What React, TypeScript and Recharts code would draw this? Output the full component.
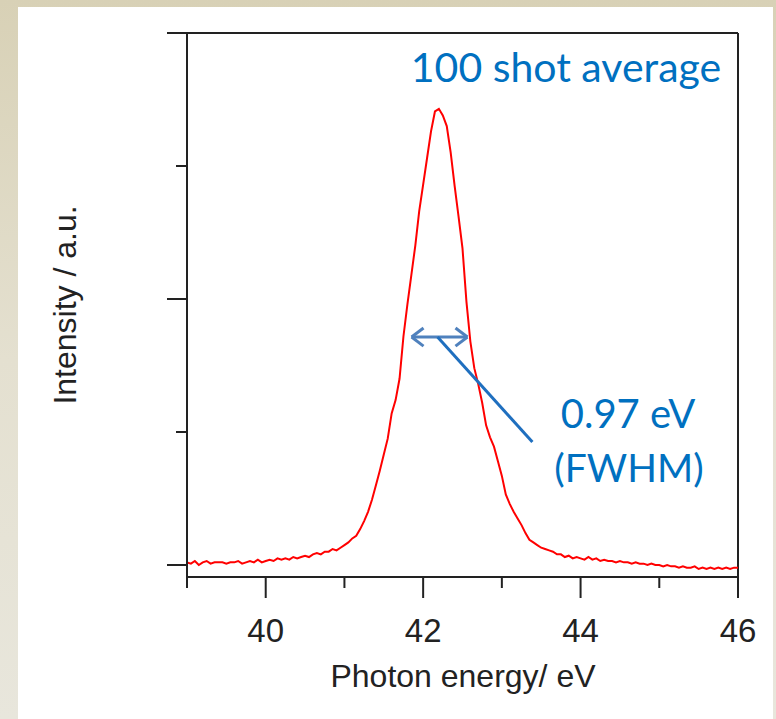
import React from 'react';
import { LineChart, Line, XAxis, YAxis, ReferenceLine } from 'recharts';

const energy = [
  39.0, 39.05, 39.1, 39.15, 39.2, 39.25, 39.3, 39.35, 39.4, 39.45,
  39.5, 39.55, 39.6, 39.65, 39.7, 39.75, 39.8, 39.85, 39.9, 39.95,
  40.0, 40.05, 40.1, 40.15, 40.2, 40.25, 40.3, 40.35, 40.4, 40.45,
  40.5, 40.55, 40.6, 40.65, 40.7, 40.75, 40.8, 40.85, 40.9, 40.95,
  41.0, 41.05, 41.1, 41.15, 41.2, 41.25, 41.3, 41.35, 41.4, 41.45,
  41.5, 41.55, 41.6, 41.65, 41.7, 41.75, 41.8, 41.85, 41.9, 41.95,
  42.0, 42.05, 42.1, 42.15, 42.2, 42.25, 42.3, 42.35, 42.4, 42.45,
  42.5, 42.55, 42.6, 42.65, 42.7, 42.75, 42.8, 42.85, 42.9, 42.95,
  43.0, 43.05, 43.1, 43.15, 43.2, 43.25, 43.3, 43.35, 43.4, 43.45,
  43.5, 43.55, 43.6, 43.65, 43.7, 43.75, 43.8, 43.85, 43.9, 43.95,
  44.0, 44.05, 44.1, 44.15, 44.2, 44.25, 44.3, 44.35, 44.4, 44.45,
  44.5, 44.55, 44.6, 44.65, 44.7, 44.75, 44.8, 44.85, 44.9, 44.95,
  45.0, 45.05, 45.1, 45.15, 45.2, 45.25, 45.3, 45.35, 45.4, 45.45,
  45.5, 45.55, 45.6, 45.65, 45.7, 45.75, 45.8, 45.85, 45.9, 45.95,
  46.0,
];

const intensity = [
  0.02, 0.01, 0.03, 0.0, 0.02, 0.03, 0.01, 0.02, 0.02, 0.02,
  0.01, 0.02, 0.02, 0.03, 0.01, 0.02, 0.03, 0.02, 0.04, 0.02,
  0.03, 0.04, 0.03, 0.05, 0.04, 0.05, 0.04, 0.06, 0.05, 0.06,
  0.07, 0.06, 0.08, 0.09, 0.08, 0.1, 0.1, 0.12, 0.11, 0.13,
  0.15, 0.17, 0.2, 0.22, 0.27, 0.33, 0.4, 0.49, 0.6, 0.71,
  0.83, 0.95, 1.14, 1.24, 1.4, 1.72, 1.96, 2.18, 2.4, 2.66,
  2.86, 3.06, 3.26, 3.41, 3.43, 3.38, 3.3, 3.1, 2.85, 2.62,
  2.38, 1.98, 1.68, 1.48, 1.36, 1.22, 1.05, 0.96, 0.89, 0.78,
  0.67, 0.53, 0.46, 0.4, 0.35, 0.3, 0.24, 0.19, 0.17, 0.15,
  0.13, 0.12, 0.11, 0.1, 0.08, 0.08, 0.06, 0.07, 0.05, 0.06,
  0.05, 0.04, 0.06, 0.04, 0.05, 0.03, 0.04, 0.03, 0.03, 0.02,
  0.03, 0.02, 0.02, 0.01, 0.02, 0.01, 0.01, 0.0, 0.01, 0.0,
  0.0, -0.01, 0.0, -0.01, -0.01, -0.02, -0.01, -0.02, -0.02, -0.01,
  -0.03, -0.02, -0.03, -0.02, -0.03, -0.02, -0.03, -0.02, -0.03, -0.02,
  -0.02,
];

const xTicks = [39, 40, 41, 42, 43, 44, 45, 46];
const xLabeledTicks = [40, 42, 44, 46];
const yTicks = [0, 1, 2, 3, 4];
const yMajorTicks = [0, 2, 4];
const xDomain = [39, 46];
const yDomain = [-0.0902, 4];

const titleText = '100 shot average';
const fwhmValueText = '0.97 eV';
const fwhmLabelText = '(FWHM)';
const xAxisTitle = 'Photon energy/ eV';
const yAxisTitle = 'Intensity / a.u.';

// FWHM arrow annotation (data coordinates)
const arrowY = 1.714;
const arrowLeft = 41.853;
const arrowRight = 42.563;
const headDx = 0.152;
const headDy = 0.068;
const calloutStart = { x: 42.183, y: 1.714 };
const calloutEnd = { x: 43.388, y: 0.925 };

const data = energy.map((e, i) => ({ energy: e, intensity: intensity[i] }));

const AXIS = '#222222';
const BLUE = '#0070c0';
const ARROW_BLUE = '#4f81bd';
const SANS = "'Liberation Sans', Arial, sans-serif";
const TEXT_FONT = "Lato, 'Open Sans', sans-serif";

const XTick = (props: any) => {
  const { x, y, payload } = props;
  const major = xLabeledTicks.includes(payload.value);
  return (
    <g>
      <line x1={x} x2={x} y1={y} y2={y + (major ? 21 : 11)} stroke={AXIS} strokeWidth={2} />
      {major && (
        <text x={x} y={y + 65} textAnchor="middle" fontSize={33} fontFamily={SANS} fill={AXIS}>
          {payload.value}
        </text>
      )}
    </g>
  );
};

const YTick = (props: any) => {
  const { x, y, payload } = props;
  const major = yMajorTicks.includes(payload.value);
  return (
    <g>
      <line x1={x - (major ? 20 : 11)} x2={x} y1={y} y2={y} stroke={AXIS} strokeWidth={2} />
    </g>
  );
};

export default function App() {
  return (
    <div
      style={{
        position: 'absolute',
        left: 0,
        top: 0,
        width: 776,
        height: 719,
        background: 'linear-gradient(180deg, #d8d1b6 0%, #e4e0d0 50%, #e8e6dc 100%)',
        overflow: 'hidden',
      }}
    >
      <div
        style={{
          position: 'absolute',
          left: 18,
          top: 7,
          width: 755,
          height: 712,
          background: '#ffffff',
        }}
      />
      <div style={{ position: 'absolute', left: 0, top: 0 }}>
        <LineChart
          width={776}
          height={719}
          data={data}
          margin={{ top: 33, right: 38, left: 0, bottom: 0 }}
        >
          <XAxis
            type="number"
            dataKey="energy"
            domain={xDomain}
            ticks={xTicks}
            interval={0}
            allowDataOverflow
            tickSize={0}
            tickMargin={0}
            tickLine={false}
            tick={<XTick />}
            height={142}
            axisLine={{ stroke: AXIS, strokeWidth: 2 }}
          />
          <YAxis
            type="number"
            domain={yDomain}
            ticks={yTicks}
            interval={0}
            allowDataOverflow
            tickSize={0}
            tickMargin={0}
            tickLine={false}
            tick={<YTick />}
            width={187}
            axisLine={{ stroke: AXIS, strokeWidth: 2 }}
          />
          <ReferenceLine y={4} stroke={AXIS} strokeWidth={2} />
          <ReferenceLine x={46} stroke={AXIS} strokeWidth={2} />
          <Line
            type="linear"
            dataKey="intensity"
            stroke="#ff0000"
            strokeWidth={2}
            dot={false}
            isAnimationActive={false}
          />
          <ReferenceLine
            segment={[{ x: arrowLeft, y: arrowY }, { x: arrowRight, y: arrowY }]}
            stroke={ARROW_BLUE}
            strokeWidth={3}
          />
          <ReferenceLine
            segment={[{ x: arrowLeft, y: arrowY }, { x: arrowLeft + headDx, y: arrowY + headDy }]}
            stroke={ARROW_BLUE}
            strokeWidth={3}
          />
          <ReferenceLine
            segment={[{ x: arrowLeft, y: arrowY }, { x: arrowLeft + headDx, y: arrowY - headDy }]}
            stroke={ARROW_BLUE}
            strokeWidth={3}
          />
          <ReferenceLine
            segment={[{ x: arrowRight, y: arrowY }, { x: arrowRight - headDx, y: arrowY + headDy }]}
            stroke={ARROW_BLUE}
            strokeWidth={3}
          />
          <ReferenceLine
            segment={[{ x: arrowRight, y: arrowY }, { x: arrowRight - headDx, y: arrowY - headDy }]}
            stroke={ARROW_BLUE}
            strokeWidth={3}
          />
          <ReferenceLine
            segment={[calloutStart, calloutEnd]}
            stroke="#1f6fbf"
            strokeWidth={3}
          />
        </LineChart>
      </div>
      <svg
        width={776}
        height={719}
        style={{ position: 'absolute', left: 0, top: 0, pointerEvents: 'none' }}
      >
        <text x={566} y={82} textAnchor="middle" fontSize={41} fontFamily={TEXT_FONT} fill={BLUE}>
          {titleText}
        </text>
        <text x={628} y={428} textAnchor="middle" fontSize={40} fontFamily={TEXT_FONT} fill={BLUE}>
          {fwhmValueText}
        </text>
        <text x={629} y={482} textAnchor="middle" fontSize={39} fontFamily={TEXT_FONT} fill={BLUE}>
          {fwhmLabelText}
        </text>
        <text x={463} y={687} textAnchor="middle" fontSize={32} fontFamily={SANS} fill={AXIS}>
          {xAxisTitle}
        </text>
        <text
          x={76}
          y={305}
          textAnchor="middle"
          fontSize={32}
          fontFamily={SANS}
          fill={AXIS}
          transform="rotate(-90 76 305)"
        >
          {yAxisTitle}
        </text>
      </svg>
    </div>
  );
}
